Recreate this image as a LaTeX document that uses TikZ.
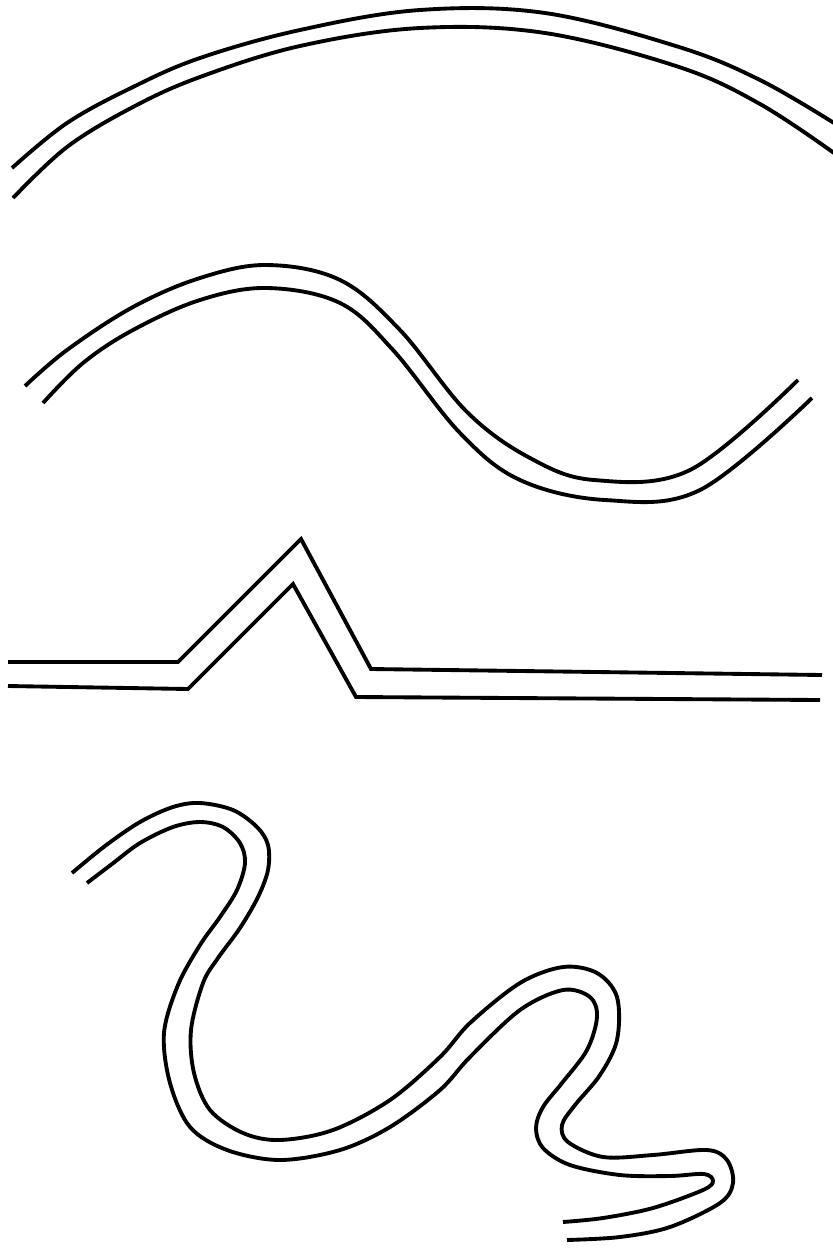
\documentclass[tikz,border=0pt]{standalone}
\begin{document}
\begin{tikzpicture}[x=0.03cm,y=-0.03cm,
  ln/.style={line width=3.3pt,line cap=butt,line join=round},
  pl/.style={line width=3.3pt,line cap=butt,line join=miter}]
\useasboundingbox (0,0) rectangle (832,1250);
% curve 1: wide arc
\draw[ln] plot[smooth,tension=0.6] coordinates {(12,168) (67,123) (133,87) (200,58) (300,30) (420,10) (545,13) (679,47) (760,80) (834,123)};
\draw[ln] plot[smooth,tension=0.6] coordinates {(13,198) (67,147) (133,107) (200,77) (300,46) (420,28) (545,33) (679,67) (760,104) (834,153)};
% curve 2: wave
\draw[ln] plot[smooth,tension=0.6] coordinates {(25,386) (67,350) (133,307) (200,278) (267,265) (340,280) (400,330) (467,412) (530,458) (594,480) (690,470) (798,380)};
\draw[ln] plot[smooth,tension=0.6] coordinates {(43,403) (83,363) (133,330) (200,300) (267,288) (340,303) (393,350) (460,433) (520,480) (605,500) (700,490) (812,398)};
% curve 3: zigzag
\draw[pl] (8,662) -- (178,662) -- (301,539) -- (371,669) -- (822,675);
\draw[pl] (8,686) -- (188,689) -- (293,584) -- (356,697) -- (820,700);
% curve 4: meander
\draw[ln] plot[smooth,tension=0.55] coordinates {(72,873) (105,846) (140,822) (173,807) (200,803) (233,810) (257,827) (268,845) (268,870) (258,897) (240,928) (218,958) (203,983) (191,1030) (194,1073) (210,1110) (243,1133) (280,1140) (333,1130) (390,1100) (440,1057) (470,1023) (520,983) (563,967) (597,973) (617,997) (617,1040) (600,1075) (575,1105) (562,1125) (568,1142) (603,1157) (653,1155) (707,1150) (727,1160) (733,1183) (720,1203) (670,1227) (620,1237) (567,1240)};
\draw[ln] plot[smooth,tension=0.55] coordinates {(87,883) (112,864) (140,843) (173,827) (200,822) (223,827) (240,843) (245,863) (237,890) (220,917) (200,945) (178,985) (164,1033) (170,1083) (190,1127) (227,1150) (280,1160) (340,1150) (390,1127) (440,1090) (470,1057) (520,1010) (563,990) (590,997) (597,1017) (587,1050) (562,1083) (543,1107) (536,1128) (543,1148) (570,1165) (620,1175) (670,1176) (704,1174) (713,1181) (703,1190) (653,1208) (603,1218) (563,1222)};
\end{tikzpicture}
\end{document}
